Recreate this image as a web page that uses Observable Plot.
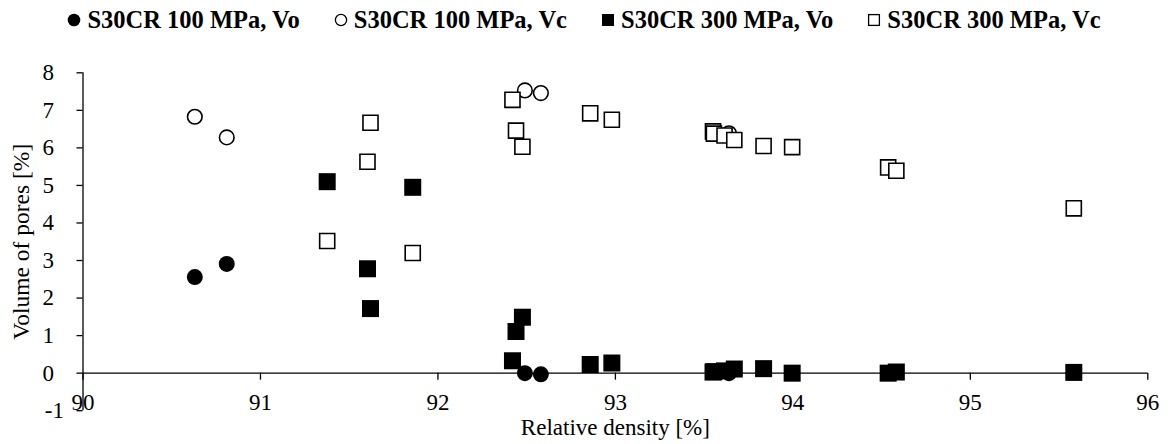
<!DOCTYPE html>
<html><head><meta charset="utf-8">
<script src="https://cdn.jsdelivr.net/npm/d3@7"></script>
<script src="https://cdn.jsdelivr.net/npm/@observablehq/plot@0.6"></script>
<style>
html,body{margin:0;padding:0;background:#fff;}
#legend{height:40px;display:flex;justify-content:center;align-items:center;gap:34px;font:bold 24.5px "Liberation Serif","Times New Roman",serif;color:#000;}
.item{display:flex;align-items:center;white-space:nowrap;}
.item svg{margin-right:6px;}
#chart svg{display:block;}
</style></head><body>
<div id="legend"></div>
<div id="chart"></div>
<script>
// Series names (legend)
const seriesNames = ["S30CR 100 MPa, Vo", "S30CR 100 MPa, Vc", "S30CR 300 MPa, Vo", "S30CR 300 MPa, Vc"];

// 100 MPa samples
const density100 = [90.63, 90.81, 92.49, 92.58, 93.64];
const vo100 = [2.56, 2.91, 0.00, -0.03, 0.00];
const vc100 = [6.83, 6.28, 7.53, 7.46, 6.39];

// 300 MPa samples
const density300 = [91.376, 91.603, 91.62, 91.858, 92.42, 92.44, 92.476, 92.858, 92.98, 93.55, 93.555, 93.615, 93.67, 93.835, 93.996, 94.537, 94.583, 95.583];
const vo300 = [5.10, 2.78, 1.72, 4.95, 0.33, 1.11, 1.49, 0.23, 0.27, 0.03, 0.04, 0.06, 0.11, 0.12, 0.00, 0.00, 0.03, 0.02];
const vc300 = [3.52, 5.63, 6.67, 3.20, 7.28, 6.46, 6.03, 6.92, 6.75, 6.44, 6.38, 6.33, 6.21, 6.05, 6.02, 5.48, 5.39, 4.39];

// Axis ticks
const xTicks = [90, 91, 92, 93, 94, 95, 96];
const yTicks = [-1, 0, 1, 2, 3, 4, 5, 6, 7, 8];

const xTitle = "Relative density [%]";
const yTitle = "Volume of pores [%]";

const d100 = density100.map((d, i) => ({d, vo: vo100[i], vc: vc100[i]}));
const d300 = density300.map((d, i) => ({d, vo: vo300[i], vc: vc300[i]}));

// Legend
const markers = [
  '<svg width="14" height="14"><circle cx="7" cy="7" r="6.3" fill="#000"/></svg>',
  '<svg width="14" height="14"><circle cx="7" cy="7" r="5.6" fill="#fff" stroke="#000" stroke-width="1.3"/></svg>',
  '<svg width="14" height="14"><rect x="1" y="1" width="12" height="12" fill="#000"/></svg>',
  '<svg width="14" height="14"><rect x="1.6" y="1.6" width="10.8" height="10.8" fill="#fff" stroke="#000" stroke-width="1.3"/></svg>'
];
const legend = document.getElementById("legend");
seriesNames.forEach((name, i) => {
  const item = document.createElement("div");
  item.className = "item";
  item.innerHTML = markers[i] + "<span>" + name + "</span>";
  legend.appendChild(item);
});

const fmt = d => String(d);

const chart = Plot.plot({
  width: 1168,
  height: 404,
  marginLeft: 82.5,
  marginRight: 20.7,
  marginTop: 32.3,
  marginBottom: 33.8,
  x: {domain: [90, 96], axis: null},
  y: {domain: [-1, 8], axis: null},
  style: {fontFamily: '"Liberation Serif", "Times New Roman", serif', fontSize: "23px", color: "#000", background: "#fff"},
  marks: [
    Plot.axisY(yTicks.filter(d => d >= 0), {anchor: "left", tickSize: 6, tickPadding: 23, fontSize: 23, strokeWidth: 1.3, tickFormat: fmt, label: null}),
    Plot.axisY(yTicks.filter(d => d < 0), {anchor: "left", tickSize: 6, tickPadding: 13, fontSize: 23, strokeWidth: 1.3, tickFormat: fmt, label: null}),
    Plot.ruleX([90], {y1: -1, y2: 8, stroke: "#000", strokeWidth: 1.3}),
    Plot.ruleY([0], {stroke: "#000", strokeWidth: 1.3}),
    Plot.ruleX(xTicks, {x: d => d, y1: 0, y2: 0, insetBottom: -7, stroke: "#000", strokeWidth: 1.3}),
    Plot.text(xTicks, {x: d => d, y: 0, dy: 29, text: fmt, fontSize: 23, fill: "#000"}),
    Plot.text([xTitle], {frameAnchor: "bottom", textAnchor: "middle", lineAnchor: "middle", dy: 17, fontSize: 23, fill: "#000"}),
    Plot.text([yTitle], {frameAnchor: "left", textAnchor: "middle", lineAnchor: "middle", dx: -61.5, rotate: -90, fontSize: 23.5, fill: "#000"}),
    Plot.dot(d100, {x: "d", y: "vo", r: 8, symbol: "circle", fill: "#000", stroke: "none"}),
    Plot.dot(d100, {x: "d", y: "vc", r: 7.3, symbol: "circle", fill: "#fff", stroke: "#000", strokeWidth: 1.6}),
    Plot.dot(d300, {x: "d", y: "vo", r: 9.6, symbol: "square", fill: "#000", stroke: "none"}),
    Plot.dot(d300, {x: "d", y: "vc", r: 8.5, symbol: "square", fill: "#fff", stroke: "#000", strokeWidth: 1.6})
  ]
});
document.getElementById("chart").appendChild(chart);
</script>
</body></html>
